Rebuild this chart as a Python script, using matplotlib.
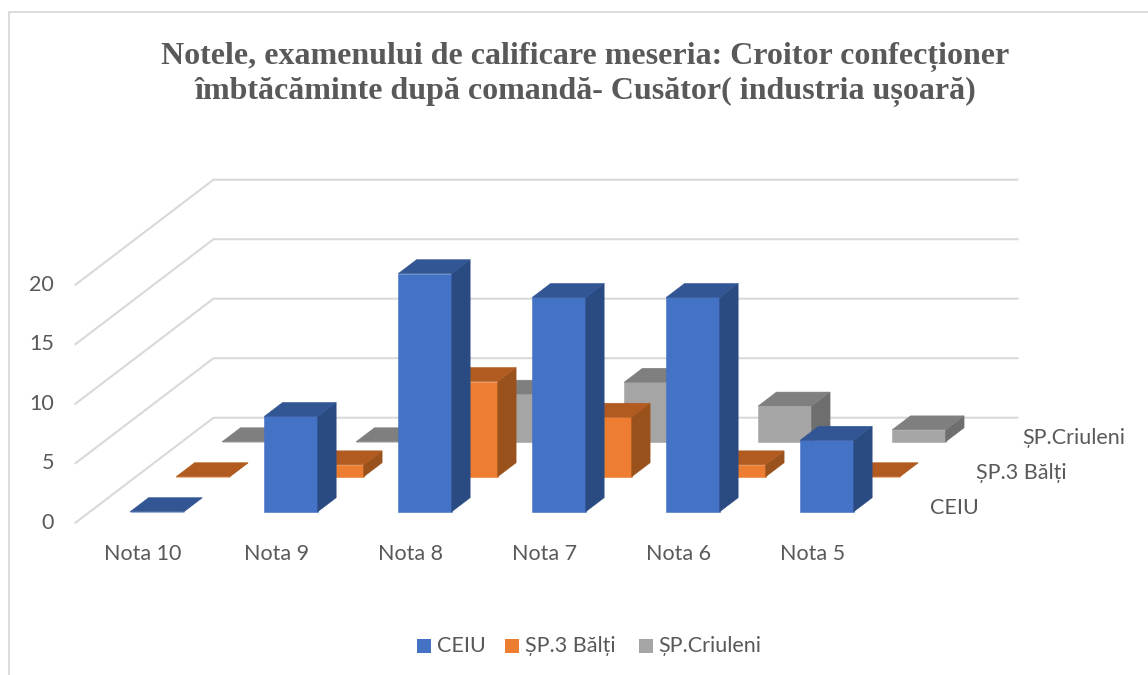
import matplotlib
matplotlib.use("Agg")
import matplotlib.pyplot as plt
from matplotlib.patches import Polygon, Rectangle

# ---- data ----
categories = ["Nota 10", "Nota 9", "Nota 8", "Nota 7", "Nota 6", "Nota 5"]
series_names = ["CEIU", "ȘP.3 Bălți", "ȘP.Criuleni"]
ceiu = [0, 8, 20, 18, 18, 6]
sp3_balti = [0, 1, 8, 5, 1, 0]
sp_criuleni = [0, 0, 4, 5, 3, 1]
y_ticks = [0, 5, 10, 15, 20]
title_lines = ["Notele, examenului de calificare meseria: Croitor confecționer",
               "îmbtăcăminte după comandă- Cusător( industria ușoară)"]

# ---- geometry of the oblique projection ----
W, H = 1148, 675
PX_PER_CAT, PX_PER_VAL = 134.0, 11.9
X0_PX, Y0_PX = 75.5, 522.7          # front-left corner of the floor
DEPTH_DX = 138.0 / PX_PER_CAT       # full depth, in category units
DEPTH_DY = 105.0 / PX_PER_VAL       # full depth, in value units
BAR_W = 0.40
BAR_D = 0.133
SERIES_D = [0.105, 0.438, 0.771]

FACE = ["#4472C4", "#ED7D31", "#A5A5A5"]
TOP = ["#325594", "#B25B20", "#7F7F7F"]
SIDE = ["#2A4A82", "#9A521C", "#6E6E6E"]
GRID = "#D9D9D9"
TEXT = "#595959"
LABEL_FONT = ["Lato", "DejaVu Sans"]
LABEL_SIZE = 15.5

fig = plt.figure(figsize=(W / 100, H / 100), dpi=100, facecolor="white")
ax = fig.add_axes([0, 0, 1, 1])
ax.set_xlim(-X0_PX / PX_PER_CAT, (W - X0_PX) / PX_PER_CAT)
ax.set_ylim((Y0_PX - H) / PX_PER_VAL, Y0_PX / PX_PER_VAL)
ax.axis("off")


def proj(c, v, d):
    """category position, value, depth (0 front .. 1 back) -> axes data."""
    return c + d * DEPTH_DX, v + d * DEPTH_DY


# walls
n = len(categories)
for v in y_ticks:
    a, b, c = proj(0, v, 0), proj(0, v, 1), proj(n, v, 1)
    ax.plot([a[0], b[0], c[0]], [a[1], b[1], c[1]], color=GRID, lw=1.5,
            solid_joinstyle="miter", zorder=1)
    ax.text(-0.16, v, str(v), ha="right", va="center", fontsize=LABEL_SIZE,
            color=TEXT, family=LABEL_FONT)

# bars, back to front
z = 2
all_series = [ceiu, sp3_balti, sp_criuleni]
for s in (2, 1, 0):
    d0, d1 = SERIES_D[s], SERIES_D[s] + BAR_D
    for i, val in enumerate(all_series[s]):
        l, r = i + 0.5 - BAR_W / 2, i + 0.5 + BAR_W / 2
        faces = [
            ([proj(l, 0, d0), proj(r, 0, d0), proj(r, val, d0), proj(l, val, d0)], FACE[s]),
            ([proj(r, 0, d0), proj(r, 0, d1), proj(r, val, d1), proj(r, val, d0)], SIDE[s]),
            ([proj(l, val, d0), proj(r, val, d0), proj(r, val, d1), proj(l, val, d1)], TOP[s]),
        ]
        for pts, col in faces:
            ax.add_patch(Polygon(pts, closed=True, facecolor=col, edgecolor=col,
                                 lw=0.4, zorder=z))
        z += 1

# category labels
for i, name in enumerate(categories):
    ax.text(i + 0.5, -2.62, name, ha="center", va="center", fontsize=LABEL_SIZE,
            color=TEXT, family=LABEL_FONT)

# series (depth) axis labels
for s, name in enumerate(series_names):
    x, y = proj(n, -0.55, SERIES_D[s] + BAR_D / 2)
    ax.text(x + 0.2, y + 0.3, name, ha="left", va="center", fontsize=LABEL_SIZE,
            color=TEXT, family=LABEL_FONT)


def px(x, y):
    return (x - X0_PX) / PX_PER_CAT, (Y0_PX - y) / PX_PER_VAL


# chart frame (left and top sides only are visible)
fx = [px(8.5, 675), px(8.5, 12), px(1148, 12)]
ax.plot([p[0] for p in fx], [p[1] for p in fx], color=GRID, lw=1.3, zorder=0)

# title
for line, y in zip(title_lines, (56.5, 91.5)):
    tx, ty = px(585, y)
    ax.text(tx, ty, line, ha="center", va="center", fontsize=23, fontweight="bold",
            family="Liberation Serif", color=TEXT)

# legend
for s, (sx, tx_px) in enumerate(zip((417, 505, 639), (437, 525, 658))):
    x0, y0 = px(sx, 653)
    ax.add_patch(Rectangle((x0, y0), 14 / PX_PER_CAT, 14 / PX_PER_VAL,
                           facecolor=FACE[s], edgecolor="none"))
    tx, ty = px(tx_px, 646)
    ax.text(tx, ty, series_names[s], ha="left", va="center", fontsize=LABEL_SIZE,
            color=TEXT, family=LABEL_FONT)

fig.savefig("out.png", dpi=100, facecolor="white")
